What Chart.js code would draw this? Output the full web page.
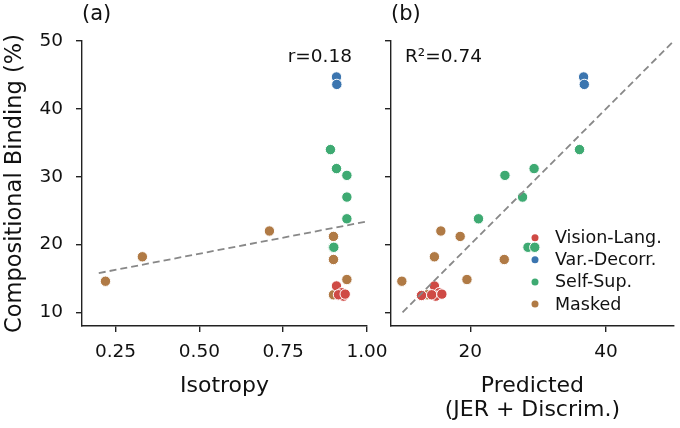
<!DOCTYPE html>
<html lang="en">
<head>
  <meta charset="UTF-8">
  <title>Compositional Binding vs Isotropy / Predicted</title>
  <script src="https://cdn.jsdelivr.net/npm/chart.js"></script>
  <style>
    body { margin: 0; background: #fff; }
    .wrap { position: relative; width: 680px; height: 428px; overflow: hidden; }
    #boxA { position: absolute; left: 0; top: 0; width: 400px; height: 428px; }
    #boxB { position: absolute; left: 372px; top: 0; width: 308px; height: 428px; }
  </style>
</head>
<body>
  <div class="wrap">
    <div id="boxA"><canvas id="chartA"></canvas></div>
    <div id="boxB"><canvas id="chartB"></canvas></div>
  </div>

  <script>
    const groups = ['Vision-Lang.', 'Var.-Decorr.', 'Self-Sup.', 'Masked'];
    const groupColors = ['#cf4a45', '#3b75af', '#3eaa72', '#b07a45'];

    // compositional binding (%) per model, one array per group
    const bindVL = [13.9, 12.5, 12.9, 12.4, 12.6, 12.7];
    const bindVD = [44.7, 43.6];
    const bindSS = [34.0, 31.2, 30.2, 27.0, 23.8, 19.6, 19.6];
    const bindMK = [14.6, 18.2, 22.0, 21.2, 17.8, 14.85, 12.6];

    // isotropy (panel a)
    const isoVL = [0.909, 0.920, 0.925, 0.930, 0.915, 0.935];
    const isoVD = [0.909, 0.910];
    const isoSS = [0.891, 0.909, 0.940, 0.940, 0.940, 0.899, 0.901];
    const isoMK = [0.220, 0.330, 0.709, 0.900, 0.900, 0.940, 0.900];

    // predicted binding from JER + discrim. (panel b)
    const predVL = [14.7, 12.8, 15.4, 14.9, 14.3, 15.8];
    const predVD = [36.7, 36.8];
    const predSS = [36.1, 29.4, 25.1, 27.7, 21.2, 28.5, 29.5];
    const predMK = [9.9, 14.7, 15.65, 18.5, 25.0, 19.5, 13.65];

    // reference lines
    const fitX = [0.20, 1.00];
    const fitY = [15.8, 23.4];
    const diagX = [10, 50];
    const diagY = [10, 50];

    const yTicks = [10, 20, 30, 40, 50];
    const isoTicks = [0.25, 0.50, 0.75, 1.00];
    const predTicks = [20, 40];

    Chart.defaults.font.family = '"DejaVu Sans", sans-serif';
    Chart.defaults.color = '#111';

    const bindGroups = [bindVL, bindVD, bindSS, bindMK];

    function pointSets(xGroups) {
      return bindGroups.map((ys, g) => ({
        label: groups[g],
        data: ys.map((y, i) => ({ x: xGroups[g][i], y: y })),
        backgroundColor: groupColors[g],
        borderColor: '#fff',
        borderWidth: 1,
        pointRadius: 5.2,
        pointHoverRadius: 5.2,
        order: 2
      }));
    }

    function lineSet(xs, ys) {
      return {
        label: 'ref',
        data: xs.map((x, i) => ({ x: x, y: ys[i] })),
        showLine: true,
        borderColor: '#888',
        borderWidth: 1.8,
        borderDash: [7, 4],
        pointRadius: 0,
        fill: false,
        order: 1
      };
    }

    function xScale(min, max, ticks, fmt, title, titlePad) {
      return {
        type: 'linear', min: min, max: max,
        afterBuildTicks: s => { s.ticks = ticks.map(v => ({ value: v })); },
        afterFit: s => { s.height = 102; s.paddingLeft = 0; s.paddingRight = 0; },
        grid: { display: true, drawOnChartArea: false, drawTicks: true, tickLength: 6, color: '#222', lineWidth: 1.4 },
        border: { display: true, color: '#222', width: 1.4 },
        ticks: { font: { size: 18.5 }, padding: 9, maxRotation: 0, autoSkip: false, callback: fmt },
        title: { display: true, text: title, font: { size: 22, lineHeight: 1.11 }, padding: { top: 0, bottom: titlePad } }
      };
    }

    function yScale(width, showLabels) {
      return {
        type: 'linear', min: 8, max: 50,
        afterBuildTicks: s => { s.ticks = yTicks.map(v => ({ value: v })); },
        afterFit: s => { s.width = width; },
        grid: { display: true, drawOnChartArea: false, drawTicks: true, tickLength: 6, color: '#222', lineWidth: 1.4 },
        border: { display: true, color: '#222', width: 1.4 },
        ticks: { display: showLabels, font: { size: 18.5 }, padding: 13 },
        title: { display: showLabels, text: 'Compositional Binding (%)', font: { size: 22.5 }, padding: { top: 1.5, bottom: 0 } }
      };
    }

    // panel label + statistic text
    const panelText = {
      id: 'panelText',
      afterDatasetsDraw(chart, args, o) {
        const { ctx, chartArea: a } = chart;
        ctx.save();
        ctx.fillStyle = '#111';
        ctx.textBaseline = 'middle';
        ctx.font = '21px "DejaVu Sans"';
        ctx.textAlign = 'left';
        ctx.fillText(o.panel, a.left, 15);
        ctx.font = '18.5px "DejaVu Sans"';
        ctx.textAlign = o.statRight ? 'right' : 'left';
        ctx.fillText(o.stat, o.statRight ? a.right - 15 : a.left + 14, 57);
        ctx.restore();
      }
    };

    // frameless legend in lower right of panel b
    const legendInside = {
      id: 'legendInside',
      afterDatasetsDraw(chart, args, o) {
        if (!o.show) return;
        const { ctx, chartArea: a } = chart;
        ctx.save();
        ctx.font = '17.5px "DejaVu Sans"';
        ctx.textBaseline = 'middle';
        ctx.textAlign = 'left';
        groups.forEach((g, i) => {
          const y = a.bottom - 88.3 + i * 22.1;
          ctx.beginPath();
          ctx.arc(a.left + 144, y, 3.5, 0, Math.PI * 2);
          ctx.fillStyle = groupColors[i];
          ctx.fill();
          ctx.fillStyle = '#111';
          ctx.fillText(g, a.left + 164, y + 1);
        });
        ctx.restore();
      }
    };

    const common = {
      responsive: true,
      maintainAspectRatio: false,
      animation: false,
      events: []
    };

    new Chart(document.getElementById('chartA'), {
      type: 'scatter',
      data: { datasets: [lineSet(fitX, fitY), ...pointSets([isoVL, isoVD, isoSS, isoMK])] },
      options: {
        ...common,
        layout: { padding: { top: 41, right: 33, left: 0, bottom: 0 } },
        scales: {
          x: xScale(0.15, 1.0, isoTicks, v => v.toFixed(2), 'Isotropy', 29.7),
          y: yScale(82, true)
        },
        plugins: {
          legend: { display: false },
          tooltip: { enabled: false },
          panelText: { panel: '(a)', stat: 'r=0.18', statRight: true },
          legendInside: { show: false }
        }
      },
      plugins: [panelText, legendInside]
    });

    new Chart(document.getElementById('chartB'), {
      type: 'scatter',
      data: { datasets: [lineSet(diagX, diagY), ...pointSets([predVL, predVD, predSS, predMK])] },
      options: {
        ...common,
        layout: { padding: { top: 41, right: 4, left: 0, bottom: 0 } },
        scales: {
          x: xScale(8.3, 50, predTicks, v => String(v), ['Predicted', '(JER + Discrim.)'], 5.5),
          y: yScale(19, false)
        },
        plugins: {
          legend: { display: false },
          tooltip: { enabled: false },
          panelText: { panel: '(b)', stat: 'R\u00b2=0.74', statRight: false },
          legendInside: { show: true }
        }
      },
      plugins: [panelText, legendInside]
    });
  </script>
</body>
</html>
